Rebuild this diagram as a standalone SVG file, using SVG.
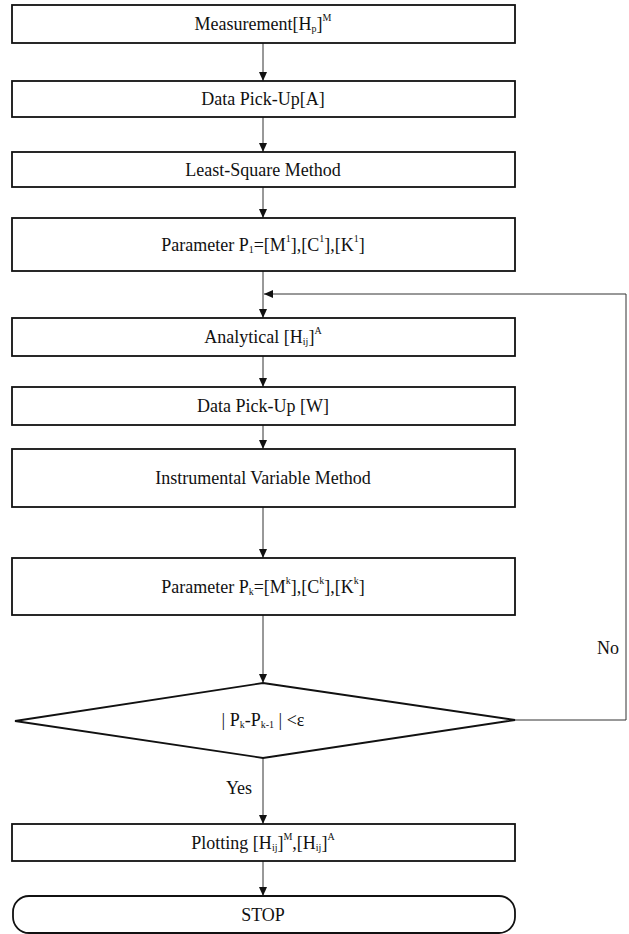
<svg xmlns="http://www.w3.org/2000/svg" width="629" height="934" viewBox="0 0 629 934">
<style>
.box{fill:#fff;stroke:#111;stroke-width:1.8}
.ln{fill:none;stroke:#333;stroke-width:1}
.t{font-family:"Liberation Serif","Times New Roman",serif;font-size:18px;fill:#111;text-anchor:middle;dominant-baseline:central}
.s{font-size:10px}
</style>
<defs>
<marker id="ah" markerWidth="10" markerHeight="10" refX="9" refY="4" orient="auto" markerUnits="userSpaceOnUse">
<path d="M0,0 L9,4 L0,8 Z" fill="#111"/>
</marker>
</defs>
<rect width="629" height="934" fill="#fff"/>
<g id="connectors">
<line class="ln" x1="263" y1="43" x2="263" y2="81" marker-end="url(#ah)"/>
<line class="ln" x1="263" y1="117" x2="263" y2="152" marker-end="url(#ah)"/>
<line class="ln" x1="263" y1="187" x2="263" y2="218" marker-end="url(#ah)"/>
<line class="ln" x1="263" y1="271" x2="263" y2="318" marker-end="url(#ah)"/>
<polyline class="ln" points="515,720 626,720 626,294 264,294" marker-end="url(#ah)"/>
<line class="ln" x1="263" y1="356" x2="263" y2="387" marker-end="url(#ah)"/>
<line class="ln" x1="263" y1="425" x2="263" y2="449" marker-end="url(#ah)"/>
<line class="ln" x1="263" y1="507" x2="263" y2="558" marker-end="url(#ah)"/>
<line class="ln" x1="263" y1="615" x2="263" y2="683" marker-end="url(#ah)"/>
<line class="ln" x1="263" y1="758" x2="263" y2="824" marker-end="url(#ah)"/>
<line class="ln" x1="263" y1="861" x2="263" y2="896" marker-end="url(#ah)"/>
<text class="t" x="239" y="788">Yes</text>
<text class="t" x="608" y="648">No</text>
</g>
<g id="n1"><rect class="box" x="12" y="5" width="503" height="38"/>
<text class="t" x="263" y="24">Measurement[H<tspan class="s" dy="4">p</tspan><tspan dy="-4">]</tspan><tspan class="s" dy="-7">M</tspan></text></g>
<g id="n2"><rect class="box" x="12" y="81" width="503" height="36"/>
<text class="t" x="263" y="99">Data Pick-Up[A]</text></g>
<g id="n3"><rect class="box" x="12" y="152" width="503" height="35"/>
<text class="t" x="263" y="169.5">Least-Square Method</text></g>
<g id="n4"><rect class="box" x="12" y="218" width="503" height="53"/>
<text class="t" x="263" y="244.5">Parameter P<tspan class="s" dy="4">1</tspan><tspan dy="-4">=[M</tspan><tspan class="s" dy="-7">1</tspan><tspan dy="7">],[C</tspan><tspan class="s" dy="-7">1</tspan><tspan dy="7">],[K</tspan><tspan class="s" dy="-7">1</tspan><tspan dy="7">]</tspan></text></g>
<g id="n5"><rect class="box" x="12" y="318" width="503" height="38"/>
<text class="t" x="263" y="337">Analytical [H<tspan class="s" dy="4">ij</tspan><tspan dy="-4">]</tspan><tspan class="s" dy="-7">A</tspan></text></g>
<g id="n6"><rect class="box" x="12" y="387" width="503" height="38"/>
<text class="t" x="263" y="406">Data Pick-Up [W]</text></g>
<g id="n7"><rect class="box" x="12" y="449" width="503" height="58"/>
<text class="t" x="263" y="478">Instrumental Variable Method</text></g>
<g id="n8"><rect class="box" x="12" y="558" width="503" height="57"/>
<text class="t" x="263" y="586.5">Parameter P<tspan class="s" dy="4">k</tspan><tspan dy="-4">=[M</tspan><tspan class="s" dy="-7">k</tspan><tspan dy="7">],[C</tspan><tspan class="s" dy="-7">k</tspan><tspan dy="7">],[K</tspan><tspan class="s" dy="-7">k</tspan><tspan dy="7">]</tspan></text></g>
<g id="n9"><polygon class="box" points="263,683 515,720 263,758 15,721"/>
<text class="t" x="263" y="720">| P<tspan class="s" dy="4">k</tspan><tspan dy="-4">-P</tspan><tspan class="s" dy="4">k-1</tspan><tspan dy="-4"> | &lt;ε</tspan></text></g>
<g id="n10"><rect class="box" x="12" y="824" width="503" height="37"/>
<text class="t" x="263" y="842.5">Plotting [H<tspan class="s" dy="4">ij</tspan><tspan dy="-4">]</tspan><tspan class="s" dy="-7">M</tspan><tspan dy="7">,[H</tspan><tspan class="s" dy="4">ij</tspan><tspan dy="-4">]</tspan><tspan class="s" dy="-7">A</tspan></text></g>
<g id="n11"><rect class="box" x="13" y="896" width="502" height="37" rx="16" ry="16"/>
<text class="t" x="263" y="914.5">STOP</text></g>
</svg>
